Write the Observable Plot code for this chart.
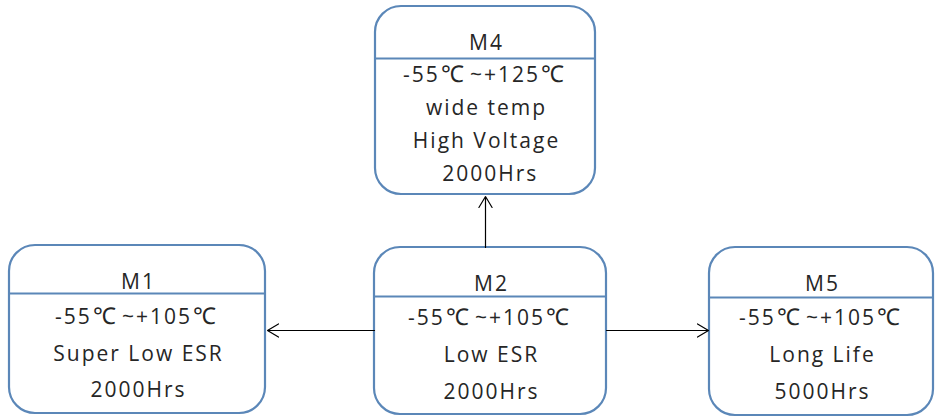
<!DOCTYPE html>
<html>
<head>
<meta charset="utf-8">
<script src="https://cdn.jsdelivr.net/npm/d3@7"></script>
<script src="https://cdn.jsdelivr.net/npm/@observablehq/plot@0.6"></script>
<style>
  html, body { margin: 0; padding: 0; background: #fff; }
  svg { display: block; }
  svg text { letter-spacing: 2px; }
</style>
</head>
<body>
<div id="chart"></div>
<script>
// Diagram content
const ids = ["M4", "M1", "M2", "M5"];
const temps = ["-55\u2103~+125\u2103", "-55\u2103~+105\u2103", "-55\u2103~+105\u2103", "-55\u2103~+105\u2103"];
const features = [["wide temp", "High Voltage"], ["Super Low ESR"], ["Low ESR"], ["Long Life"]];
const hours = [" 2000Hrs", "2000Hrs", "2000Hrs", "5000Hrs"];
// Connections (from -> to)
const links = [["M2", "M1"], ["M2", "M4"], ["M2", "M5"]];

// Layout (pixel frame of the diagram)
const layout = {
  M4: {x1: 375, x2: 595, y1: 6, y2: 194, title: 37, div: 52, first: 69, step: 33},
  M1: {x1: 9, x2: 265, y1: 245, y2: 413, title: 37, div: 48, first: 72, step: 36.5},
  M2: {x1: 374, x2: 606, y1: 247, y2: 414, title: 37, div: 49, first: 71, step: 37},
  M5: {x1: 709, x2: 933, y1: 247, y2: 415, title: 37, div: 50, first: 71, step: 37}
};

const boxes = ids.map(id => ({id, ...layout[id]}));
const dividers = boxes.map(b => ({x1: b.x1, x2: b.x2, y: b.y1 + b.div}));
const texts = [];
ids.forEach((id, i) => {
  const b = layout[id];
  const cx = (b.x1 + b.x2) / 2 + 1;
  texts.push({x: cx, y: b.y1 + b.title, t: id});
  const body = [temps[i], ...features[i], hours[i]];
  body.forEach((t, j) => texts.push({x: cx, y: b.y1 + b.first + j * b.step, t}));
});

const arrows = links.map(([a, b]) => {
  const A = layout[a], B = layout[b];
  if (B.y2 < A.y1) {
    const x = (A.x1 + A.x2) / 2 - 5;
    return {x1: x, y1: A.y1, x2: x, y2: B.y2 + 2};
  }
  const y = 330;
  if (B.x2 < A.x1) return {x1: A.x1, y1: y, x2: B.x2 + 2, y2: y};
  return {x1: A.x2, y1: y, x2: B.x1 - 1, y2: y};
});

const chart = Plot.plot({
  width: 940,
  height: 419,
  margin: 0,
  x: {domain: [0, 940], axis: null},
  y: {domain: [0, 419], reverse: true, axis: null},
  style: {fontFamily: "'Open Sans', sans-serif", background: "#fff"},
  marks: [
    Plot.rect(boxes, {x1: "x1", x2: "x2", y1: "y1", y2: "y2", rx: 26, fill: "white", stroke: "#5b87b8", strokeWidth: 2.2}),
    Plot.ruleY(dividers, {x1: "x1", x2: "x2", y: "y", stroke: "#5b87b8", strokeWidth: 1.8}),
    Plot.arrow(arrows, {x1: "x1", y1: "y1", x2: "x2", y2: "y2", stroke: "black", strokeWidth: 1.2, headLength: 16, headAngle: 62}),
    Plot.text(texts, {x: "x", y: "y", text: "t", fontSize: 21, fill: "#262626"})
  ]
});

// Give the degree-Celsius sign a full-width look, as in the reference
d3.select(chart).selectAll("text").each(function () {
  const el = d3.select(this);
  const s = el.text();
  if (!s.includes("\u2103")) return;
  el.text(null);
  s.split(/(\u2103)/).filter(p => p.length).forEach(p => {
    const ts = el.append("tspan").text(p);
    if (p === "\u2103") ts.attr("dx", 1).style("font-size", "23px").style("letter-spacing", "6px");
  });
});

document.getElementById("chart").appendChild(chart);
</script>
</body>
</html>
